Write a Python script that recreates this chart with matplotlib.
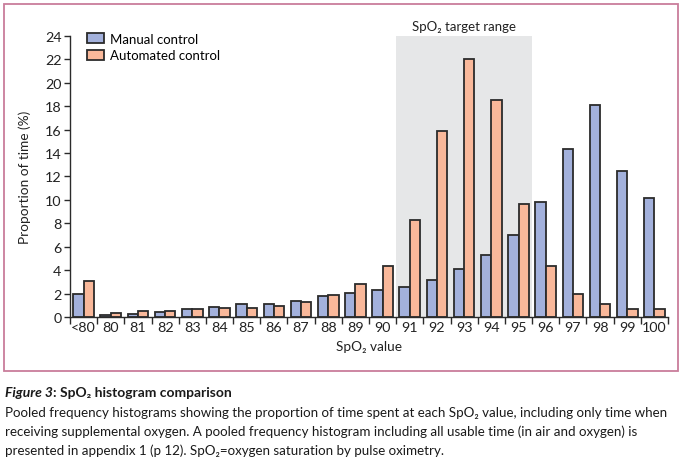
import numpy as np
import matplotlib
matplotlib.use("Agg")
import matplotlib.pyplot as plt
from matplotlib.patches import Rectangle, Patch

plt.rcParams['font.family'] = ['Lato', 'DejaVu Sans']

# SpO2 categories and proportion of time (%)
categories = ['<80', '80', '81', '82', '83', '84', '85', '86', '87', '88', '89',
              '90', '91', '92', '93', '94', '95', '96', '97', '98', '99', '100']
manual = [1.95, 0.2, 0.27, 0.45, 0.7, 0.87, 1.07, 1.07, 1.35, 1.8, 2.05,
          2.3, 2.6, 3.13, 4.1, 5.27, 7.0, 9.83, 14.33, 18.1, 12.48, 10.17]
automated = [3.1, 0.37, 0.5, 0.55, 0.7, 0.8, 0.8, 0.95, 1.25, 1.85, 2.8,
             4.36, 8.26, 15.87, 22.0, 18.5, 9.63, 4.36, 1.94, 1.11, 0.65, 0.65]
target_lo, target_hi = '91', '95'

blue = '#a3b1dc'
orange = '#f9b89a'
edge = '#2b2b2b'

fig = plt.figure(figsize=(6.8, 4.6), dpi=100)
ax = fig.add_axes([0.1029, 0.3087, 0.8795, 0.6109])

x = np.arange(len(categories))
w = 0.38
i0 = categories.index(target_lo)
i1 = categories.index(target_hi)
ax.axvspan(i0 - 0.5, i1 + 0.5, ymin=0, ymax=1, color='#e6e7e8', zorder=0, lw=0)
ax.text((i0 + i1) / 2, 24.35, 'SpO₂ target range', ha='center', va='bottom',
        fontsize=9.5, color='#222222')

ax.bar(x - w / 2, manual, width=w, color=blue, edgecolor=edge, linewidth=1.3,
       zorder=2, label='Manual control')
ax.bar(x + w / 2, automated, width=w, color=orange, edgecolor=edge, linewidth=1.3,
       zorder=2, label='Automated control')

ax.set_xlim(-0.5, len(categories) - 0.5)
ax.set_ylim(0, 24)
ax.set_yticks(np.arange(0, 25, 2))
ax.set_xticks(np.arange(-0.5, len(categories), 1.0))
ax.set_xticklabels([])
ax.set_xticks(x, minor=True)
ax.set_xticklabels(categories, minor=True)
ax.tick_params(axis='x', which='major', direction='out', length=5, width=1, color=edge)
ax.tick_params(axis='x', which='minor', length=0, labelsize=10.3, pad=3, labelcolor='#222222')
ax.tick_params(axis='y', direction='out', length=4, width=1, color=edge,
               labelsize=10.3, labelcolor='#222222', pad=2)

for s in ['top', 'right']:
    ax.spines[s].set_visible(False)
for s in ['left', 'bottom']:
    ax.spines[s].set_color(edge)
    ax.spines[s].set_linewidth(1)

ax.set_ylabel('Proportion of time (%)', fontsize=9.8, color='#222222', labelpad=10)
ax.set_xlabel('SpO₂ value', fontsize=9.8, color='#222222', labelpad=5)

handles = [Patch(facecolor=blue, edgecolor=edge, linewidth=1.3),
           Patch(facecolor=orange, edgecolor=edge, linewidth=1.3)]
ax.legend(handles, ['Manual control', 'Automated control'], loc='upper left',
          bbox_to_anchor=(0.02, 1.03), frameon=False, fontsize=9.5,
          handlelength=1.3, handleheight=0.8, handletextpad=0.4, labelspacing=0.35,
          borderaxespad=0)

# pink frame around the figure panel
fig.patches.append(Rectangle((4 / 680, 1 - 372 / 460), 674 / 680, 367 / 460,
                             transform=fig.transFigure, fill=False,
                             edgecolor='#c97d9b', linewidth=1.3))

# caption
t1 = fig.text(5 / 680, 1 - 393 / 460, 'Figure 3', fontsize=10, fontstyle='italic',
              fontweight='bold', va='center', color='#1a1a1a')
fig.canvas.draw()
ax.annotate(': SpO₂ histogram comparison', xy=(1, 0), xycoords=t1, va='bottom',
            fontsize=10, fontweight='bold', color='#1a1a1a', annotation_clip=False)
lines = ['Pooled frequency histograms showing the proportion of time spent at each SpO₂ value, including only time when',
         'receiving supplemental oxygen. A pooled frequency histogram including all usable time (in air and oxygen) is',
         'presented in appendix 1 (p 12). SpO₂=oxygen saturation by pulse oximetry.']
for k, line in enumerate(lines):
    fig.text(5 / 680, 1 - (413 + 19 * k) / 460, line, fontsize=9.6, va='center',
             color='#1a1a1a')

fig.savefig('out.png', dpi=100)
